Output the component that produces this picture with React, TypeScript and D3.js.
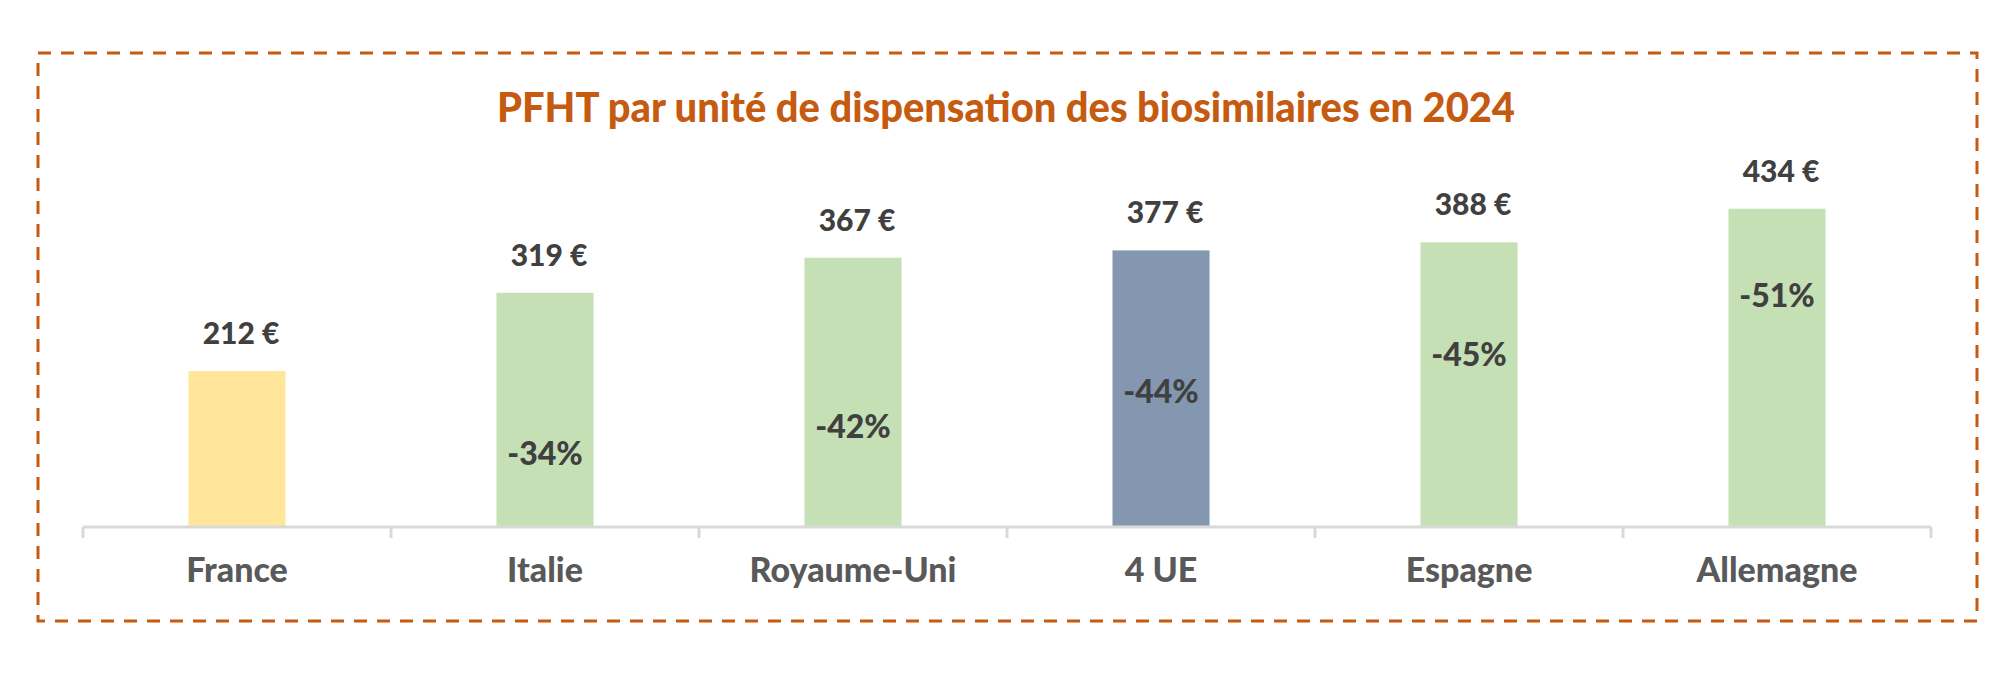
import { useEffect, useRef } from 'react';
import * as d3 from 'd3';

// values
const categories = ['France', 'Italie', 'Royaume-Uni', '4 UE', 'Espagne', 'Allemagne'];
const prices = [212, 319, 367, 377, 388, 434];
const priceLabels = ['212 €', '319 €', '367 €', '377 €', '388 €', '434 €'];
const gaps = ['', '-34%', '-42%', '-44%', '-45%', '-51%'];
// where the gap labels sit, in € on the value axis (hand placed in the original)
const gapLabelAt = [0, 83, 120, 168, 219, 300];
const barColors = ['#FFE699', '#C5E0B4', '#C5E0B4', '#8497B0', '#C5E0B4', '#C5E0B4'];

const title = 'PFHT par unité de dispensation des biosimilaires en 2024';

export default function App() {
  const ref = useRef<SVGSVGElement>(null);

  useEffect(() => {
    document.body.style.margin = '0';
    if (!ref.current) return;
    const svg = d3.select(ref.current);
    svg.selectAll('*').remove();

    const width = 2000;
    const height = 684;
    svg.attr('width', width).attr('height', height);

    const font = 'Lato, "Open Sans", sans-serif';

    // dashed frame
    svg
      .append('rect')
      .attr('x', 38)
      .attr('y', 53)
      .attr('width', 1939)
      .attr('height', 568)
      .attr('fill', 'none')
      .attr('stroke', '#C55A11')
      .attr('stroke-width', 3)
      .attr('stroke-dasharray', '13 10');

    svg
      .append('text')
      .attr('x', 1006)
      .attr('y', 122)
      .attr('text-anchor', 'middle')
      .attr('font-family', font)
      .attr('font-weight', 900)
      .attr('font-size', 41)
      .attr('fill', '#C55A11')
      .attr('textLength', 1018)
      .attr('lengthAdjust', 'spacingAndGlyphs')
      .text(title);

    const x = d3
      .scaleBand<string>()
      .domain(categories)
      .range([83, 1931])
      .paddingInner(0.685)
      .paddingOuter(0.3425);

    const y = d3.scaleLinear().domain([0, 500]).range([526, 160.5]);

    const step = x.step();
    const axisY = 527;
    const idx = d3.range(categories.length);

    // bars
    svg
      .selectAll('rect.bar')
      .data(idx)
      .enter()
      .append('rect')
      .attr('class', 'bar')
      .attr('x', (i) => x(categories[i])!)
      .attr('y', (i) => y(prices[i]))
      .attr('width', x.bandwidth())
      .attr('height', (i) => y(0) - y(prices[i]))
      .attr('fill', (i) => barColors[i]);

    // axis line and ticks at band edges
    const axis = svg.append('g').attr('stroke', '#D9D9D9').attr('stroke-width', 3);
    axis
      .append('line')
      .attr('x1', 83)
      .attr('x2', 1931)
      .attr('y1', axisY)
      .attr('y2', axisY);
    axis
      .selectAll('line.tick')
      .data(d3.range(categories.length + 1))
      .enter()
      .append('line')
      .attr('class', 'tick')
      .attr('x1', (i) => 83 + i * step)
      .attr('x2', (i) => 83 + i * step)
      .attr('y1', axisY)
      .attr('y2', axisY + 11);

    const cx = (i: number) => x(categories[i])! + x.bandwidth() / 2;

    // price labels above bars
    svg
      .selectAll('text.price')
      .data(idx)
      .enter()
      .append('text')
      .attr('class', 'price')
      .attr('x', (i) => cx(i) + 4)
      .attr('y', (i) => y(prices[i]) - 27)
      .attr('text-anchor', 'middle')
      .attr('font-family', font)
      .attr('font-weight', 900)
      .attr('font-size', 30)
      .attr('fill', '#404040')
      .text((i) => priceLabels[i]);

    // gap labels inside bars
    svg
      .selectAll('text.gap')
      .data(idx.filter((i) => gaps[i] !== ''))
      .enter()
      .append('text')
      .attr('class', 'gap')
      .attr('x', (i) => cx(i))
      .attr('y', (i) => y(gapLabelAt[i]))
      .attr('text-anchor', 'middle')
      .attr('font-family', font)
      .attr('font-weight', 900)
      .attr('font-size', 32)
      .attr('fill', '#404040')
      .text((i) => gaps[i]);

    // category labels
    svg
      .selectAll('text.cat')
      .data(idx)
      .enter()
      .append('text')
      .attr('class', 'cat')
      .attr('x', (i) => cx(i))
      .attr('y', 582)
      .attr('text-anchor', 'middle')
      .attr('font-family', font)
      .attr('font-weight', 900)
      .attr('font-size', 34)
      .attr('fill', '#595959')
      .text((i) => categories[i]);
  }, []);

  return <svg ref={ref} />;
}
